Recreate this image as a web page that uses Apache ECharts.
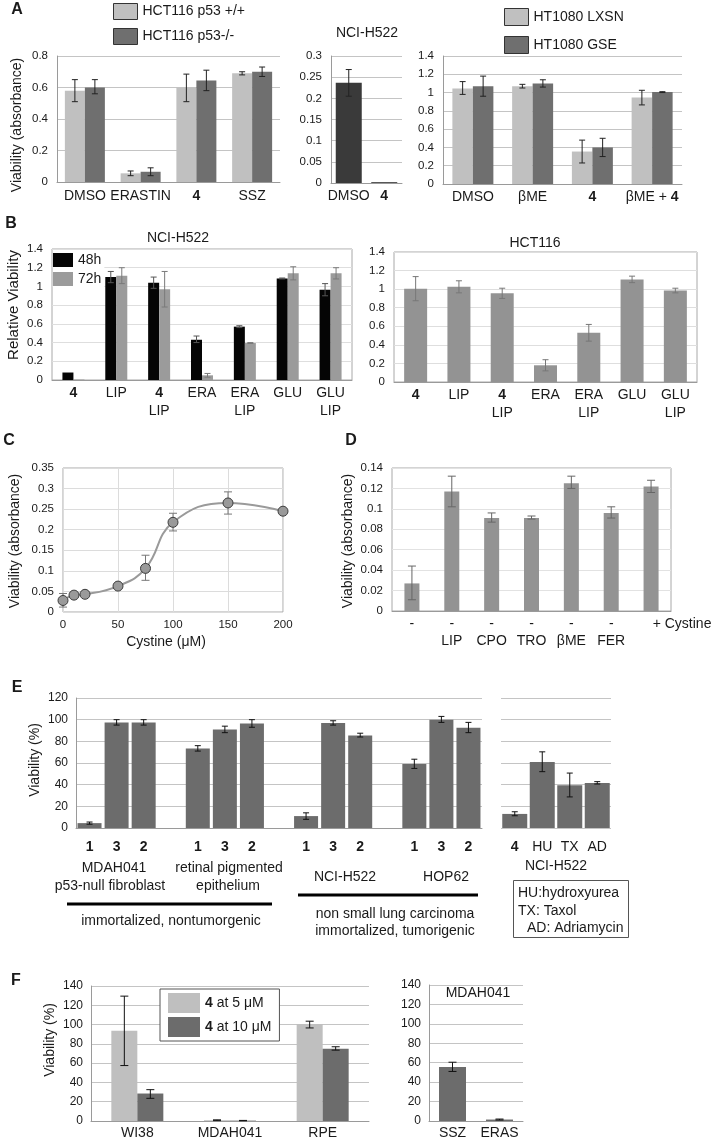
<!DOCTYPE html>
<html><head><meta charset="utf-8">
<script src="https://cdn.jsdelivr.net/npm/echarts@6/dist/echarts.min.js"></script>
<style>html,body{margin:0;padding:0;background:#fff}#c{width:717px;height:1144px}</style>
</head><body><div id="c"></div>
<script>
// ================= DATA =================
// Panel A1 (HCT116)
const A1_cats = ['DMSO', 'ERASTIN', '4', 'SSZ'];
const A1_wt = [0.58, 0.055, 0.60, 0.69];
const A1_wt_lo = [0.51, 0.04, 0.51, 0.68];
const A1_wt_hi = [0.65, 0.07, 0.685, 0.70];
const A1_ko = [0.60, 0.065, 0.645, 0.70];
const A1_ko_lo = [0.56, 0.04, 0.58, 0.67];
const A1_ko_hi = [0.65, 0.09, 0.71, 0.73];
// Panel A2 (NCI-H522)
const A2_cats = ['DMSO', '4'];
const A2_vals = [0.237, 0.002];
const A2_lo = [0.205, null];
const A2_hi = [0.268, null];
// Panel A3 (HT1080)
const A3_cats = ['DMSO', 'βME', '4', 'βME + 4'];
const A3_lxsn = [1.045, 1.07, 0.355, 0.945];
const A3_lxsn_lo = [0.98, 1.05, 0.23, 0.865];
const A3_lxsn_hi = [1.12, 1.09, 0.48, 1.025];
const A3_gse = [1.07, 1.10, 0.40, 1.005];
const A3_gse_lo = [0.96, 1.06, 0.30, 1.0];
const A3_gse_hi = [1.18, 1.14, 0.50, 1.01];
// Panel B
const B_cats = ['4', 'LIP', '4\nLIP', 'ERA', 'ERA\nLIP', 'GLU', 'GLU\nLIP'];
const B1_48 = [0.08, 1.10, 1.04, 0.43, 0.57, 1.085, 0.965];
const B1_48_lo = [null, 1.04, 0.98, 0.40, 0.56, 1.08, 0.90];
const B1_48_hi = [null, 1.16, 1.10, 0.47, 0.58, 1.09, 1.03];
const B1_72 = [0.005, 1.115, 0.97, 0.05, 0.395, 1.14, 1.14];
const B1_72_lo = [null, 1.03, 0.78, 0.03, 0.39, 1.07, 1.08];
const B1_72_hi = [null, 1.20, 1.16, 0.07, 0.40, 1.21, 1.20];
const B2_vals = [1.005, 1.025, 0.955, 0.18, 0.53, 1.105, 0.985];
const B2_lo = [0.875, 0.96, 0.90, 0.12, 0.44, 1.07, 0.96];
const B2_hi = [1.135, 1.09, 1.01, 0.24, 0.62, 1.14, 1.01];
// Panel C
const C_x = [0, 10, 20, 50, 75, 100, 150, 200];
const C_y = [0.028, 0.041, 0.043, 0.063, 0.106, 0.218, 0.265, 0.245];
const C_lo = [0.012, null, null, null, 0.077, 0.197, 0.238, null];
const C_hi = [0.045, null, null, null, 0.138, 0.240, 0.292, null];
// Panel D
const D_cats = ['-', '-\nLIP', '-\nCPO', '-\nTRO', '-\nβME', '-\nFER', '+ Cystine'];
const D_vals = [0.027, 0.117, 0.091, 0.091, 0.125, 0.096, 0.122];
const D_lo = [0.011, 0.102, 0.087, 0.090, 0.120, 0.091, 0.116];
const D_hi = [0.044, 0.132, 0.096, 0.093, 0.132, 0.102, 0.128];
// Panel E
const E_compounds = ['1', '3', '2'];
const E_MDAH = [4.5, 97.5, 97.5], E_MDAH_lo = [3.5, 95, 95], E_MDAH_hi = [5.5, 100, 100];
const E_RPE = [73.5, 91, 96.5], E_RPE_lo = [71, 88, 93], E_RPE_hi = [76, 94, 100];
const E_NCI = [11, 97, 85.5], E_NCI_lo = [8, 95, 84], E_NCI_hi = [14, 99, 87.5];
const E_HOP = [59, 100, 92.5], E_HOP_lo = [55, 97.5, 88], E_HOP_hi = [63.5, 103, 97.5];
const E2_cats = ['4', 'HU', 'TX', 'AD'];
const E2_vals = [13, 61, 39.5, 41.5];
const E2_lo = [11.3, 52, 28.7, 40.6];
const E2_hi = [15, 70.3, 50.7, 42.8];
// Panel F
const F1_cats = ['WI38', 'MDAH041', 'RPE'];
const F1_5 = [93.5, 0.8, 100.5], F1_5_lo = [57.5, 0.4, 96.5], F1_5_hi = [129.5, 1.2, 103.5];
const F1_10 = [28.5, 0.4, 75], F1_10_lo = [23.5, 0.2, 73.5], F1_10_hi = [32.5, 0.6, 77];
const F2_cats = ['SSZ', 'ERAS'];
const F2_vals = [55.5, 1.5], F2_lo = [51, 1.0], F2_hi = [60.5, 2.0];

// build E (3 bars per group with a spacer slot between groups)
function withSpacers(groups) { const out = []; groups.forEach((g, i) => { out.push(...g); if (i < groups.length - 1) out.push(null); }); return out; }
const E1_cats = withSpacers([E_compounds, E_compounds, E_compounds, E_compounds]).map(v => v == null ? '' : v);
const E1_vals = withSpacers([E_MDAH, E_RPE, E_NCI, E_HOP]);
const E1_lo = withSpacers([E_MDAH_lo, E_RPE_lo, E_NCI_lo, E_HOP_lo]);
const E1_hi = withSpacers([E_MDAH_hi, E_RPE_hi, E_NCI_hi, E_HOP_hi]);

// ================= STYLE / BUILDERS =================
const FONT = '"Liberation Sans", Arial, Helvetica, sans-serif';
const TXT = '#1a1a1a';
const grids = [], xAxes = [], yAxes = [], series = [], legends = [], graphics = [];
const richB = { b: { fontWeight: 'bold', fontSize: 14, color: TXT, fontFamily: FONT, lineHeight: 18 } };

function addGrid(box, frame) {
  grids.push(Object.assign({ show: !!frame, borderColor: frame || '#fff', borderWidth: frame ? 1 : 0,
    backgroundColor: 'transparent', containLabel: false, outerBoundsMode: 'none' }, box));
  return grids.length - 1;
}
function catAxis(gi, data, lab, extra) {
  xAxes.push(Object.assign({ type: 'category', gridIndex: gi, data,
    axisTick: { show: false }, axisLine: { show: true, lineStyle: { color: '#9a9a9a' } }, splitLine: { show: false },
    axisLabel: Object.assign({ interval: 0, fontSize: 14, color: TXT, fontFamily: FONT, margin: 5, lineHeight: 18, rich: richB }, lab || {})
  }, extra || {}));
  return xAxes.length - 1;
}
function valAxis(gi, min, max, interval, o) {
  o = o || {};
  yAxes.push(Object.assign({ type: 'value', gridIndex: gi, min, max, interval,
    axisTick: { show: false }, axisLine: { show: o.line !== false, lineStyle: { color: '#9a9a9a' } },
    splitLine: { show: true, lineStyle: { color: o.grid || '#c4c4c4', width: 1 } },
    axisLabel: { show: o.labels !== false, fontSize: 11.5, color: TXT, fontFamily: FONT, margin: 9 } }, o.axis || {}));
  return yAxes.length - 1;
}
function bars(ai, name, data, color, width) {
  series.push({ type: 'bar', name, xAxisIndex: ai, yAxisIndex: ai, data, barWidth: width, barGap: '0%',
    itemStyle: { color }, silent: true, z: 2 });
}
function errs(ai, lo, hi, offset, color, cap, xs) {
  const data = [];
  lo.forEach((l, i) => { if (l != null && hi[i] != null) data.push([xs ? xs[i] : i, l, hi[i]]); });
  series.push({ type: 'custom', xAxisIndex: ai, yAxisIndex: ai, silent: true, z: xs ? 1 : 5, data,
    encode: { x: 0, y: [1, 2] },
    renderItem: (p, api) => {
      const a = api.coord([api.value(0), api.value(1)]);
      const b = api.coord([api.value(0), api.value(2)]);
      const x = a[0] + offset;
      const st = { stroke: color, lineWidth: 1 };
      return { type: 'group', children: [
        { type: 'line', shape: { x1: x, y1: a[1], x2: x, y2: b[1] }, style: st },
        { type: 'line', shape: { x1: x - cap, y1: a[1], x2: x + cap, y2: a[1] }, style: st },
        { type: 'line', shape: { x1: x - cap, y1: b[1], x2: x + cap, y2: b[1] }, style: st }
      ] };
    } });
}
function T(text, x, y, o) {
  o = o || {};
  graphics.push({ type: 'text', x, y, rotation: o.rot || 0, z: 50, silent: true,
    style: { text, x: 0, y: 0, fill: o.color || TXT,
      font: (o.weight || 'normal') + ' ' + (o.size || 14) + 'px ' + FONT,
      textAlign: o.align || 'center', align: o.align || 'center',
      textVerticalAlign: 'middle', verticalAlign: 'middle' } });
}
function L(x1, y1, x2, y2, w) {
  graphics.push({ type: 'line', silent: true, shape: { x1, y1, x2, y2 }, style: { stroke: '#000', lineWidth: w } });
}

const LIGHT = '#c0c0c0', DARK = '#6f6f6f';
const bold4 = v => v === '4' ? '{b|4}' : v;

// ---- A1 ----
let g = addGrid({ left: 57, top: 56, width: 223, height: 126 });
catAxis(g, A1_cats, { formatter: bold4, margin: 5 });
valAxis(g, 0, 0.8, 0.2);
bars(g, 'HCT116 p53 +/+', A1_wt, LIGHT, 20);
bars(g, 'HCT116 p53-/-', A1_ko, DARK, 20);
errs(g, A1_wt_lo, A1_wt_hi, -10, '#222', 3);
errs(g, A1_ko_lo, A1_ko_hi, 10, '#222', 3);
legends.push({ left: 113, top: 3, orient: 'vertical', icon: 'rect', itemWidth: 24, itemHeight: 16, itemGap: 8, padding: 0,
  selectedMode: false, data: ['HCT116 p53 +/+', 'HCT116 p53-/-'], itemStyle: { borderColor: '#333', borderWidth: 1 },
  textStyle: { fontSize: 14, color: TXT, fontFamily: FONT } });

// ---- A2 ----
g = addGrid({ left: 331, top: 56, width: 71, height: 127 });
catAxis(g, A2_cats, { formatter: bold4, margin: 4 });
valAxis(g, 0, 0.3, 0.05);
bars(g, 'NCI-H522 A', A2_vals, '#3a3a3a', 26);
errs(g, A2_lo, A2_hi, 0, '#222', 3);

// ---- A3 ----
g = addGrid({ left: 443, top: 56, width: 239, height: 128 });
catAxis(g, A3_cats, { formatter: v => v === '4' ? '{b|4}' : (v === 'βME + 4' ? 'βME + {b|4}' : v), margin: 4 });
valAxis(g, 0, 1.4, 0.2);
bars(g, 'HT1080 LXSN', A3_lxsn, LIGHT, 20.5);
bars(g, 'HT1080 GSE', A3_gse, DARK, 20.5);
errs(g, A3_lxsn_lo, A3_lxsn_hi, -10.25, '#222', 3);
errs(g, A3_gse_lo, A3_gse_hi, 10.25, '#222', 3);
legends.push({ left: 504, top: 8, orient: 'vertical', icon: 'rect', itemWidth: 24, itemHeight: 17, itemGap: 10, padding: 0,
  selectedMode: false, data: ['HT1080 LXSN', 'HT1080 GSE'], itemStyle: { borderColor: '#333', borderWidth: 1 },
  textStyle: { fontSize: 14, color: TXT, fontFamily: FONT } });

// ---- B1 ----
const bFmt = v => v.replace(/^4/, '{b|4}');
g = addGrid({ left: 52, top: 249, width: 300, height: 131 }, '#a8a8a8');
catAxis(g, B_cats, { formatter: bFmt, margin: 4 });
valAxis(g, 0, 1.4, 0.2, { grid: '#dedede', line: false });
bars(g, '48h', B1_48, '#050505', 11);
bars(g, '72h', B1_72, '#9b9b9b', 11);
errs(g, B1_48_lo, B1_48_hi, -5.5, '#555', 3);
errs(g, B1_72_lo, B1_72_hi, 5.5, '#7a7a7a', 3);
legends.push({ left: 53, top: 253, orient: 'vertical', icon: 'rect', itemWidth: 20, itemHeight: 14, itemGap: 5, padding: [0, 3, 1, 0],
  backgroundColor: '#fff', selectedMode: false, data: ['48h', '72h'],
  textStyle: { fontSize: 14, color: TXT, fontFamily: FONT } });

// ---- B2 ----
g = addGrid({ left: 394, top: 252, width: 303, height: 130 }, '#a8a8a8');
catAxis(g, B_cats, { formatter: bFmt, margin: 4 });
valAxis(g, 0, 1.4, 0.2, { grid: '#dedede', line: false });
bars(g, 'HCT116 B', B2_vals, '#939393', 23);
errs(g, B2_lo, B2_hi, 0, '#777', 3);

// ---- C ----
g = addGrid({ left: 63, top: 468, width: 220, height: 144 }, '#a8a8a8');
xAxes.push({ type: 'value', gridIndex: g, min: 0, max: 200, interval: 50,
  axisTick: { show: false }, axisLine: { show: false }, splitLine: { show: true, lineStyle: { color: '#dcdcdc' } },
  axisLabel: { fontSize: 11.5, color: TXT, fontFamily: FONT, margin: 7 } });
valAxis(g, 0, 0.35, 0.05, { grid: '#dcdcdc', line: false });
errs(g, C_lo, C_hi, 0, '#777', 4, C_x);
series.push({ type: 'line', xAxisIndex: g, yAxisIndex: g, data: C_x.map((x, i) => [x, C_y[i]]), smooth: 0.45,
  symbol: 'circle', symbolSize: 10, lineStyle: { color: '#9a9a9a', width: 2 },
  itemStyle: { color: '#9a9a9a', borderColor: '#3c3c3c', borderWidth: 1 }, silent: true, z: 3 });

// ---- D ----
g = addGrid({ left: 392, top: 468, width: 279, height: 143 }, '#a8a8a8');
catAxis(g, D_cats, { margin: 5, lineHeight: 17,
  formatter: v => v === '+ Cystine' ? '{c|+ Cystine}' : v,
  rich: { c: { fontSize: 14, color: TXT, fontFamily: FONT, padding: [0, 0, 0, 62], lineHeight: 17 } } });
valAxis(g, 0, 0.14, 0.02, { grid: '#e2e2e2', line: false });
bars(g, 'D', D_vals, '#939393', 15);
errs(g, D_lo, D_hi, 0, '#666', 4);

// ---- E1 ----
g = addGrid({ left: 76, top: 698, width: 406, height: 130 });
catAxis(g, E1_cats, { fontWeight: 'bold', margin: 10 });
valAxis(g, 0, 120, 20, { axis: { axisLabel: { fontSize: 12, color: TXT, fontFamily: FONT, margin: 8 } } });
bars(g, 'E1', E1_vals, '#6c6c6c', 24);
errs(g, E1_lo, E1_hi, 0, '#111', 3);

// ---- E2 ----
g = addGrid({ left: 501, top: 698, width: 110, height: 130 });
catAxis(g, E2_cats, { formatter: bold4, margin: 10 }, { axisLine: { show: false } });
valAxis(g, 0, 120, 20, { labels: false, line: false });
bars(g, 'E2', E2_vals, '#6c6c6c', 25);
errs(g, E2_lo, E2_hi, 0, '#111', 3);

// ---- F1 ----
g = addGrid({ left: 91, top: 986, width: 278, height: 135 });
catAxis(g, F1_cats, { margin: 3 });
valAxis(g, 0, 140, 20, { axis: { axisLabel: { fontSize: 12, color: TXT, fontFamily: FONT, margin: 8 } } });
bars(g, '4 at 5 μM', F1_5, '#bfbfbf', 26);
bars(g, '4 at 10 μM', F1_10, '#6c6c6c', 26);
errs(g, F1_5_lo, F1_5_hi, -13, '#111', 4);
errs(g, F1_10_lo, F1_10_hi, 13, '#111', 4);
legends.push({ left: 160, top: 989, orient: 'vertical', icon: 'rect', itemWidth: 32, itemHeight: 20, itemGap: 4,
  padding: [4, 8, 4, 8], borderColor: '#555', borderWidth: 1, backgroundColor: '#fff', selectedMode: false,
  data: ['4 at 5 μM', '4 at 10 μM'], formatter: n => n.replace(/^4/, '{b|4}'),
  textStyle: { fontSize: 14, color: TXT, fontFamily: FONT, rich: { b: { fontWeight: 'bold', fontSize: 14, color: TXT, fontFamily: FONT } } } });

// ---- F2 ----
g = addGrid({ left: 429, top: 985, width: 94, height: 136 });
catAxis(g, F2_cats, { margin: 3 });
valAxis(g, 0, 140, 20, { axis: { axisLabel: { fontSize: 12, color: TXT, fontFamily: FONT, margin: 8 } } });
bars(g, 'F2', F2_vals, '#6c6c6c', 27);
errs(g, F2_lo, F2_hi, 0, '#111', 4);

// ================= TEXT ANNOTATIONS =================
[['A', 17, 10], ['B', 11, 224], ['C', 9, 441], ['D', 351, 441], ['E', 17, 688], ['F', 16, 981]]
  .forEach(p => T(p[0], p[1], p[2], { weight: 'bold', size: 16 }));
T('Viability (absorbance)', 17, 125, { rot: Math.PI / 2 });
T('NCI-H522', 367, 33);
T('NCI-H522', 178, 238);
T('HCT116', 535, 243);
T('Relative Viability', 14, 305, { rot: Math.PI / 2, size: 15 });
T('Viability (absorbance)', 15, 541, { rot: Math.PI / 2 });
T('Viability (absorbance)', 348, 541, { rot: Math.PI / 2 });
T('Cystine (μM)', 166, 642);
T('Viability (%)', 35, 760, { rot: Math.PI / 2 });
T('MDAH041', 114, 868);
T('p53-null fibroblast', 110, 886);
T('retinal pigmented', 229, 868);
T('epithelium', 228, 886);
L(67, 904, 272, 904, 3);
T('immortalized, nontumorgenic', 171, 921);
T('NCI-H522', 345, 877);
T('HOP62', 446, 877);
L(298, 895, 478, 895, 3);
T('non small lung carcinoma', 395, 914);
T('immortalized, tumorigenic', 395, 931);
T('NCI-H522', 556, 866);
graphics.push({ type: 'rect', silent: true, shape: { x: 513.5, y: 880.5, width: 115, height: 57 }, style: { fill: 'none', stroke: '#555', lineWidth: 1 } });
T('HU:hydroxyurea', 518, 893, { align: 'left' });
T('TX: Taxol', 518, 911, { align: 'left' });
T('AD: Adriamycin', 527, 928, { align: 'left' });
T('Viability (%)', 50, 1040, { rot: Math.PI / 2 });
T('MDAH041', 478, 993);

const chart = echarts.init(document.getElementById('c'), null, { renderer: 'canvas' });
chart.setOption({
  animation: false, backgroundColor: '#fff',
  textStyle: { fontFamily: FONT },
  grid: grids, xAxis: xAxes, yAxis: yAxes, series, legend: legends, graphic: graphics
});
</script></body></html>
